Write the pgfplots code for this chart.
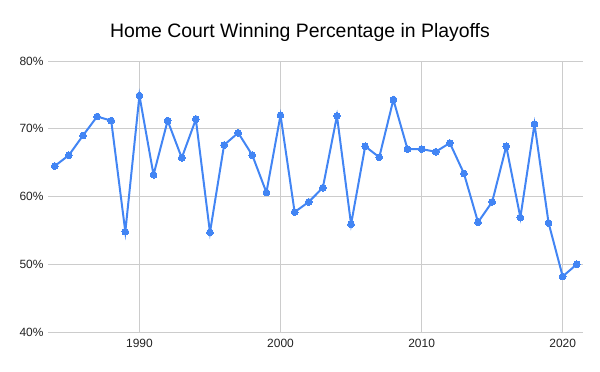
\documentclass[border=0pt]{standalone}
\usepackage{pgfplots}
\pgfplotsset{compat=1.18}
\usepackage{fontspec}
\setmainfont{Liberation Sans}
\definecolor{gblue}{HTML}{4285F4}
\definecolor{gridc}{HTML}{CCCCCC}
\definecolor{tickc}{HTML}{222222}
\begin{document}
\begin{tikzpicture}[x=1bp,y=1bp]
\path[use as bounding box] (0,0) rectangle (600,371);
\node[font=\fontsize{19.5}{22}\selectfont, text=black] at (300,339) {Home Court Winning Percentage in Playoffs};
\begin{axis}[
  at={(48bp,39bp)}, anchor=south west,
  scale only axis, width=535bp, height=271bp,
  xmin=1983.52, xmax=2021.44, ymin=40, ymax=80,
  xtick={1990,2000,2010,2020}, ytick={40,50,60,70,80},
  xticklabels={1990,2000,2010,2020},
  yticklabel={\pgfmathprintnumber{\tick}\%},
  /pgf/number format/assume math mode=true,
  major tick length=0pt,
  axis line style={draw=none},
  grid=major, grid style={gridc, line width=0.8pt},
  tick label style={font=\fontsize{12}{14}\selectfont, text=tickc},
  yticklabel style={xshift=-1bp},
  xticklabel style={yshift=-3.5bp},
  clip=false,
]
\addplot[gblue, line width=2pt, mark=*, mark size=3.4pt, mark options={fill=gblue, draw=gblue, line width=0pt}] coordinates {
(1984,64.5) (1985,66.1) (1986,69.0) (1987,71.8) (1988,71.2) (1989,54.8)
(1990,74.9) (1991,63.2) (1992,71.2) (1993,65.7) (1994,71.4) (1995,54.7)
(1996,67.6) (1997,69.4) (1998,66.1) (1999,60.6) (2000,72.0) (2001,57.7)
(2002,59.2) (2003,61.3) (2004,71.9) (2005,55.9) (2006,67.4) (2007,65.8)
(2008,74.3) (2009,67.0) (2010,67.0) (2011,66.6) (2012,67.9) (2013,63.4)
(2014,56.2) (2015,59.2) (2016,67.4) (2017,56.9) (2018,70.7) (2019,56.1)
(2020,48.2) (2021,50.0)
};
\end{axis}
\end{tikzpicture}
\end{document}
